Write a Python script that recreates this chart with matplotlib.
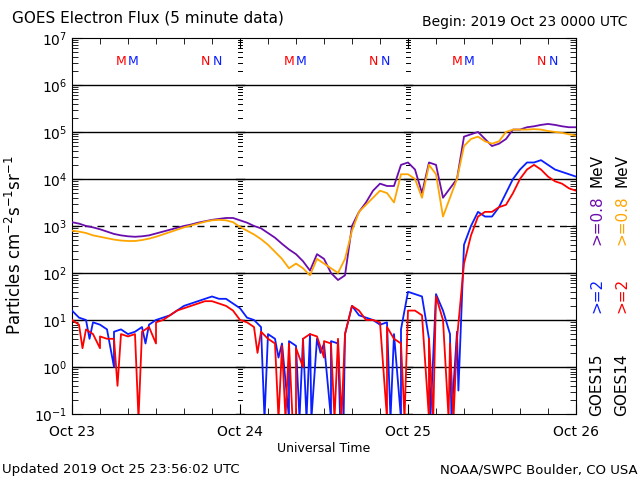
import numpy as np
import matplotlib
matplotlib.use('Agg')
import matplotlib.pyplot as plt
from matplotlib.ticker import LogLocator, NullFormatter, MultipleLocator

# hourly values, log10 flux, hour 0 = 2019 Oct 23 00 UTC
hours = np.arange(73)
g15_08 = [3.08, 3.05, 3.0, 2.97, 2.93, 2.88, 2.83, 2.8, 2.78, 2.77, 2.78, 2.8, 2.84, 2.88, 2.92, 2.96, 3.0, 3.03, 3.07, 3.1, 3.13, 3.15, 3.17, 3.17, 3.12,
          3.07, 3.0, 2.95, 2.85, 2.75, 2.62, 2.5, 2.4, 2.25, 2.05, 2.4, 2.3, 2.0, 1.85, 1.95,
          3.0, 3.3, 3.5, 3.75, 3.9, 3.85, 3.85, 4.3, 4.35, 4.2, 3.7, 4.35, 4.3, 3.6, 3.8, 4.0, 4.9, 4.95, 5.0, 4.85,
          4.7, 4.75, 4.85, 5.05, 5.05, 5.1, 5.12, 5.15, 5.17, 5.15, 5.12, 5.1, 5.1]
g14_08 = [2.9, 2.88, 2.85, 2.8, 2.77, 2.74, 2.71, 2.69, 2.68, 2.68, 2.7, 2.73, 2.77, 2.82, 2.87, 2.92, 2.97, 3.01, 3.05, 3.09, 3.12, 3.13, 3.12, 3.08, 2.98,
          2.9, 2.82, 2.72, 2.6, 2.45, 2.3, 2.1, 2.2, 2.1, 1.95, 2.3, 2.2, 2.1, 2.0, 2.3,
          2.9, 3.3, 3.45, 3.6, 3.75, 3.7, 3.5, 4.1, 4.1, 4.0, 3.6, 4.3, 4.1, 3.2, 3.6, 4.0, 4.7, 4.85, 4.9, 4.8,
          4.75, 4.8, 5.0, 5.05, 5.05, 5.05, 5.06, 5.05, 5.02, 5.0, 4.98, 4.95, 4.92]
g15_2 = [1.2, 1.05, 1.0, 0.95, 0.9, 0.8, 0.75, 0.8, 0.7, 0.75, 0.85, 0.9, 1.0, 1.05, 1.1, 1.2, 1.3, 1.35, 1.4, 1.45, 1.5, 1.45, 1.45, 1.35, 1.25,
         1.05, 1.0, 0.85, 0.7, 0.6, 0.5, 0.55, 0.45, 0.6, 0.7, 0.6, 0.5, 0.55, 0.5, 0.7, 1.3, 1.1, 1.05, 1.0, 0.9, 0.95, 0.7, 0.8, 1.6,
         1.55, 1.5, 0.6, 1.55, 1.2, 0.7, 0.75, 2.6, 3.0, 3.3, 3.2, 3.2, 3.4, 3.7, 4.0, 4.2, 4.35, 4.35, 4.4, 4.3, 4.2, 4.15, 4.1, 4.05]
g14_2 = [1.0, 0.9, 0.8, 0.7, 0.65, 0.6, 0.6, 0.7, 0.65, 0.7, 0.75, 0.85, 0.95, 1.0, 1.1, 1.2, 1.25, 1.3, 1.35, 1.4, 1.4, 1.35, 1.3, 1.2, 1.0,
         0.95, 0.85, 0.75, 0.6, 0.5, 0.45, 0.5, 0.4, 0.6, 0.7, 0.65, 0.55, 0.5, 0.6, 0.7, 1.3, 1.2, 1.0, 1.0, 0.95, 0.85, 0.6, 0.5, 1.2,
         1.2, 1.1, 0.6, 1.5, 1.0, 0.5, 0.6, 2.2, 2.8, 3.2, 3.3, 3.3, 3.4, 3.45, 3.7, 4.0, 4.2, 4.3, 4.2, 4.05, 3.95, 3.9, 3.8, 3.75]
# dropouts (hour, log10 flux)
g15_2_dips = [(2.5, 0.6), (6.0, 0.0), (10.5, 0.5), (27.5, -1.1), (29.5, 0.2), (31.0, -1.1), (32.5, -1.1), (33.5, -1.1), (34.2, -1.1), (35.5, 0.3),
              (37.0, -1.1), (38.3, -1.1), (38.8, -1.1), (45.5, -1.1), (47.0, -1.1), (51.2, -1.1), (54.2, -1.1), (55.2, -0.5)]
g14_2_dips = [(1.5, 0.4), (4.0, 0.4), (6.5, -0.4), (9.5, -1.1), (12.0, 0.5), (26.5, 0.3), (29.5, -1.1), (30.5, -1.1), (31.5, -1.1), (32.0, -1.1),
              (33.0, 0.0), (36.0, 0.2), (37.5, -1.1), (38.5, -1.1), (45.0, -1.1), (47.5, -1.1), (51.0, -1.1), (51.6, -1.1),
              (53.8, -1.1), (54.5, -1.1)]
day_labels = ['Oct 23', 'Oct 24', 'Oct 25', 'Oct 26']


def merge(vals, dips):
    pts = sorted(list(zip(hours, vals)) + dips)
    x = np.array([p[0] for p in pts], float)
    y = 10 ** np.array([p[1] for p in pts])
    return x, y


fig = plt.figure(figsize=(6.4, 4.8), dpi=100)
ax = fig.add_axes([0.1125, 0.1375, 0.7875, 0.7835])
ax.set_yscale('log')
ax.set_xlim(0, 72)
ax.set_ylim(1e-1, 1e7)

for d in range(0, 7):
    ax.axhline(10 ** d, color='black', lw=1, ls='--' if d == 3 else '-', dashes=(5, 4) if d == 3 else (None, None), zorder=1)

x, y = merge(g15_08, [])
ax.plot(x, y, color='#6a0dad', lw=1.3, zorder=3)
x, y = merge(g14_08, [])
ax.plot(x, y, color='orange', lw=1.3, zorder=4)
x, y = merge(g15_2, g15_2_dips)
ax.plot(x, y, color='#0a1eff', lw=1.3, zorder=3)
x, y = merge(g14_2, g14_2_dips)
ax.plot(x, y, color='red', lw=1.3, zorder=4)

# tick marks along day boundaries
for dx in (24, 48):
    for d in range(-1, 7):
        ax.plot([dx - 0.55, dx + 0.55], [10 ** d, 10 ** d], color='black', lw=1, zorder=2)
        for k in range(2, 10):
            if 10 ** d * k < 1e7:
                ax.plot([dx - 0.3, dx + 0.3], [10 ** d * k, 10 ** d * k], color='black', lw=0.7, zorder=2)

ax.set_xticks([0, 24, 48, 72])
ax.set_xticklabels(day_labels)
ax.xaxis.set_minor_locator(MultipleLocator(4))
ax.yaxis.set_major_locator(LogLocator(base=10, numticks=20))
ax.yaxis.set_minor_locator(LogLocator(base=10, subs=np.arange(2, 10), numticks=20))
ax.yaxis.set_minor_formatter(NullFormatter())
ax.tick_params(which='both', direction='in', top=True, right=True, labelsize=10)
ax.tick_params(which='major', length=7)
ax.tick_params(which='minor', length=4)
ax.tick_params(axis='x', pad=8)

# M / N markers
for d in range(3):
    for hx, lab, col in [(7.0, 'M', 'red'), (8.8, 'M', '#0a1eff'), (19.0, 'N', 'red'), (20.8, 'N', '#0a1eff')]:
        ax.text(24 * d + hx, 3.2e6, lab, color=col, fontsize=9, ha='center', va='center')

fig.text(12 / 640, 1 - 18 / 480, 'GOES Electron Flux (5 minute data)', fontsize=11, va='center')
fig.text(628 / 640, 1 - 22 / 480, 'Begin: 2019 Oct 23 0000 UTC', fontsize=10, va='center', ha='right')
fig.text(324 / 640, 1 - 449 / 480, 'Universal Time', fontsize=9, va='center', ha='center')
fig.text(2 / 640, 1 - 470 / 480, 'Updated 2019 Oct 25 23:56:02 UTC', fontsize=9.5, va='center')
fig.text(638 / 640, 1 - 470 / 480, 'NOAA/SWPC Boulder, CO USA', fontsize=9.5, va='center', ha='right')
fig.text(15 / 640, 1 - 245 / 480, r'Particles cm$^{-2}$s$^{-1}$sr$^{-1}$', fontsize=12, rotation=90, va='center', ha='center')

for xp, parts in [(597, [('GOES15', 'black', 385), ('>=2', '#0a1eff', 295), ('>=0.8', '#6a0dad', 220), ('MeV', 'black', 170)]),
                  (622, [('GOES14', 'black', 385), ('>=2', 'red', 295), ('>=0.8', 'orange', 220), ('MeV', 'black', 170)])]:
    for txt, col, yp in parts:
        fig.text(xp / 640, 1 - yp / 480, txt, color=col, fontsize=11, rotation=90, va='center', ha='center')

fig.savefig('out.png', dpi=100)
